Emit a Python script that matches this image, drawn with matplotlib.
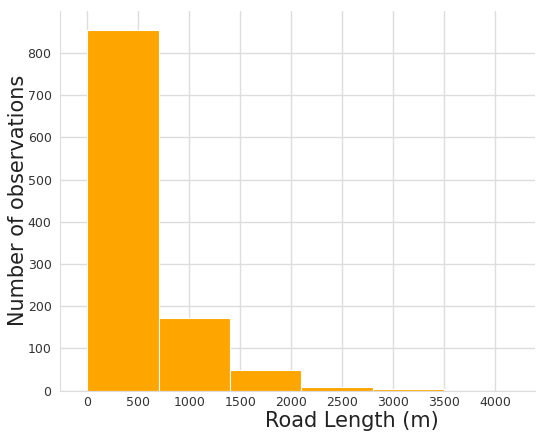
import matplotlib
matplotlib.use("Agg")
import matplotlib.pyplot as plt
import seaborn as sns

bin_edges = [0, 700, 1400, 2100, 2800, 3500]
counts = [855, 172, 50, 8, 3]
x_ticks = [0, 500, 1000, 1500, 2000, 2500, 3000, 3500, 4000]
y_ticks = [0, 100, 200, 300, 400, 500, 600, 700, 800]

sns.set_style("whitegrid")
plt.rcParams['font.family'] = ['DejaVu Sans']

fig = plt.figure(figsize=(5.5, 4.46), dpi=100)
ax = fig.add_axes([0.109, 0.124, 0.864, 0.851])

lefts = bin_edges[:-1]
widths = [b - a for a, b in zip(bin_edges[:-1], bin_edges[1:])]
ax.bar(lefts, counts, width=widths, align='edge', color='#FFA500',
       edgecolor='white', linewidth=0.8)

ax.set_xlim(-270, 4396)
ax.set_ylim(0, 899)
ax.set_xticks(x_ticks)
ax.set_yticks(y_ticks)
ax.tick_params(axis='both', labelsize=9, colors='#333333', length=0)
ax.tick_params(axis='x', pad=4)
ax.tick_params(axis='y', pad=6)
ax.grid(True, color='#dddddd', linewidth=1)
for side in ['top', 'right']:
    ax.spines[side].set_visible(False)
for side in ['left', 'bottom']:
    ax.spines[side].set_color('#dddddd')

fig.text(18 / 550, 0.55, 'Number of observations', fontsize=15, color='#222222',
         ha='center', va='center', rotation=90)
fig.text(0.64, 0.057, 'Road Length (m)', fontsize=15, color='#222222',
         ha='center', va='center')

fig.savefig('out.png', dpi=100)
